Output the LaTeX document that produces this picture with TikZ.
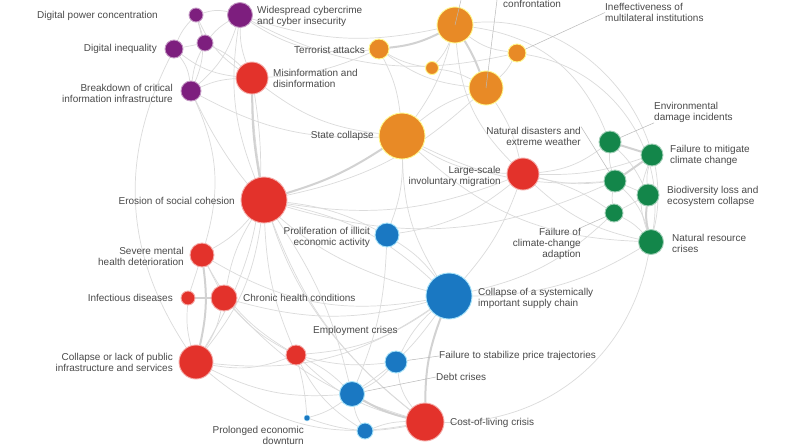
\documentclass[tikz,border=0pt]{standalone}
\usepackage{fontspec}
\setmainfont{Liberation Sans}
\definecolor{techpurple}{HTML}{7D1E7E}
\definecolor{socred}{HTML}{E3322B}
\definecolor{geoorange}{HTML}{E88A26}
\definecolor{envgreen}{HTML}{13864A}
\definecolor{econblue}{HTML}{1A78C2}
\definecolor{labelgray}{HTML}{4A4A4A}
\pgfdeclarelayer{bg}
\pgfsetlayers{bg,main}
\tikzset{
  risk/.style={circle, inner sep=0pt, line width=0.9pt},
  tech/.style={risk, fill=techpurple, draw=techpurple!45!white},
  soc/.style={risk, fill=socred, draw=socred!40!white},
  geo/.style={risk, fill=geoorange, draw=yellow!45!white},
  env/.style={risk, fill=envgreen, draw=envgreen!40!white},
  econ/.style={risk, fill=econblue, draw=cyan!35!white},
  lbl/.style={text=labelgray, font=\fontsize{10}{11}\selectfont, inner sep=0pt},
  lbll/.style={lbl, anchor=east, align=right},
  lblr/.style={lbl, anchor=west, align=left},
  link/.style={draw=gray!28, line width=0.7pt},
  heavylink/.style={draw=gray!35, line width=2pt},
  leader/.style={draw=gray!55, line width=0.5pt}
}
\begin{document}
\begin{tikzpicture}[x=1pt, y=-1pt]
\useasboundingbox (0,0) rectangle (800,445);

\node[tech, minimum size=14] (powerconc) at (196,15) {};
\node[tech, minimum size=25] (cyber) at (240,15) {};
\node[tech, minimum size=16] (digitech) at (205,43) {};
\node[tech, minimum size=18] (diginequal) at (174,49) {};
\node[tech, minimum size=20] (breakdown) at (191,91) {};

\node[soc, minimum size=32] (misinfo) at (252,78) {};
\node[soc, minimum size=46] (cohesion) at (264,200) {};
\node[soc, minimum size=24] (mental) at (202,255) {};
\node[soc, minimum size=14] (infect) at (188,298) {};
\node[soc, minimum size=26] (chronic) at (224,298) {};
\node[soc, minimum size=34] (pubinfra) at (196,362) {};
\node[soc, minimum size=20] (employ) at (296,355) {};
\node[soc, minimum size=32] (migration) at (523,174) {};
\node[soc, minimum size=38] (costliving) at (425,422) {};

\node[geo, minimum size=36] (geotop) at (455,25) {};
\node[geo, minimum size=20] (terror) at (379,49) {};
\node[geo, minimum size=13] (geomid) at (432,68) {};
\node[geo, minimum size=34] (confront) at (486,88) {};
\node[geo, minimum size=18] (multilat) at (517,53) {};
\node[geo, minimum size=46] (statecoll) at (402,136) {};

\node[env, minimum size=22] (envdamage) at (610,142) {};
\node[env, minimum size=22] (mitigate) at (652,155) {};
\node[env, minimum size=22] (natdis) at (615,181) {};
\node[env, minimum size=22] (biodiv) at (648,195) {};
\node[env, minimum size=18] (adaption) at (614,213) {};
\node[env, minimum size=25] (natres) at (651,242) {};

\node[econ, minimum size=24] (illicit) at (387,235) {};
\node[econ, minimum size=46] (supply) at (449,296) {};
\node[econ, minimum size=22] (pricestab) at (396,362) {};
\node[econ, minimum size=25] (debt) at (352,394) {};
\node[econ, minimum size=16] (econlow) at (365,431) {};
\node[econ, minimum size=6, line width=0.4pt] (downturn) at (307,418) {};

\node[lbll] (powerconclbl) at (158,16) {Digital power concentration};
\node[lblr] (cyberlbl) at (257,16.5) {Widespread cybercrime\\and cyber insecurity};
\node[lbll] (diginequallbl) at (157,49) {Digital inequality};
\node[lbll] (breakdownlbl) at (173,93) {Breakdown of critical\\information infrastructure};
\node[lblr] (misinfolbl) at (273,78) {Misinformation and\\disinformation};
\node[lbll] (terrorlbl) at (365,49.5) {Terrorist attacks};
\node[lbll] (statecolllbl) at (374,136) {State collapse};
\node[lbl, anchor=base west] (confrontlbl) at (503,7) {confrontation};
\node[lblr] (multilatlbl) at (605,12.5) {Ineffectiveness of\\multilateral institutions};
\node[lbll] (natdislbl) at (581,136) {Natural disasters and\\extreme weather};
\node[lbll] (migrationlbl) at (501,176) {Large-scale\\involuntary migration};
\node[lblr] (envdamagelbl) at (654,112.5) {Environmental\\damage incidents};
\node[lblr] (mitigatelbl) at (670,155.5) {Failure to mitigate\\climate change};
\node[lblr] (biodivlbl) at (667,196.5) {Biodiversity loss and\\ecosystem collapse};
\node[lbll] (adaptionlbl) at (581,243.5) {Failure of\\climate-change\\adaption};
\node[lblr] (natreslbl) at (672,243) {Natural resource\\crises};
\node[lbll] (cohesionlbl) at (235,201) {Erosion of social cohesion};
\node[lbll] (illicitlbl) at (370,237.5) {Proliferation of illicit\\economic activity};
\node[lbll] (mentallbl) at (184,256) {Severe mental\\health deterioration};
\node[lbll] (infectlbl) at (173,298) {Infectious diseases};
\node[lblr] (chroniclbl) at (243,298) {Chronic health conditions};
\node[lblr] (supplylbl) at (478,298) {Collapse of a systemically\\important supply chain};
\node[lblr] (employlbl) at (313,331) {Employment crises};
\node[lbll] (pubinfralbl) at (173,362.5) {Collapse or lack of public\\infrastructure and services};
\node[lblr] (pricestablbl) at (439,356) {Failure to stabilize price trajectories};
\node[lblr] (debtlbl) at (436,377) {Debt crises};
\node[lblr] (costlivinglbl) at (450,423) {Cost-of-living crisis};
\node[lbll] (downturnlbl) at (304,435) {Prolonged economic\\downturn};

\coordinate (geotopend) at (461,0);
\coordinate (confrontend) at (497,0);

\begin{pgfonlayer}{bg}
\fill[white] (0,0) rectangle (800,445);
\foreach \a/\b/\c in {powerconc/cyber/15, powerconc/diginequal/-10, powerconc/digitech/0,
  powerconc/misinfo/-15, powerconc/breakdown/20, digitech/diginequal/0, digitech/cyber/10,
  digitech/breakdown/-10, digitech/misinfo/10, diginequal/breakdown/15, diginequal/misinfo/-15,
  cyber/breakdown/15, cyber/misinfo/-10, cyber/terror/-20, cyber/geotop/-15, cyber/multilat/-20,
  breakdown/misinfo/10, breakdown/supply/-25, breakdown/statecoll/-15, diginequal/pubinfra/-30,
  breakdown/mental/20, cyber/cohesion/-15, misinfo/terror/-10, misinfo/statecoll/-15,
  misinfo/costliving/-25, misinfo/pubinfra/20,
  cohesion/mental/10, cohesion/pubinfra/15, cohesion/chronic/-10, cohesion/employ/-10,
  cohesion/costliving/-15, cohesion/migration/-15, cohesion/illicit/10, cohesion/confront/-15,
  cohesion/supply/15, cohesion/natdis/-20, cohesion/debt/10,
  mental/chronic/0, mental/infect/0, mental/employ/-15, mental/supply/-20,
  infect/pubinfra/-10, chronic/pubinfra/10, chronic/employ/-10, chronic/costliving/-15,
  chronic/supply/-15, pubinfra/supply/-20,
  pubinfra/employ/-15, pubinfra/costliving/-25, pubinfra/debt/-15, employ/costliving/-15,
  employ/debt/10, employ/pricestab/-10, employ/downturn/5, employ/supply/-15, employ/econlow/-15,
  geotop/geomid/10, geotop/statecoll/10, geotop/multilat/-15, geotop/migration/-20,
  geotop/envdamage/30, terror/geomid/-10, terror/statecoll/10, terror/confront/-15,
  geomid/confront/10, confront/statecoll/-10, confront/multilat/-10, confront/migration/10,
  statecoll/migration/-15, statecoll/illicit/10, statecoll/supply/-15, statecoll/natres/-20,
  statecoll/natdis/-15, illicit/migration/-15,
  migration/envdamage/-15, migration/natdis/-10, migration/adaption/10, migration/supply/10,
  migration/natres/-15, migration/mitigate/-10, envdamage/natdis/-10, envdamage/biodiv/10,
  mitigate/biodiv/-10, mitigate/natres/-20, natdis/biodiv/0, natdis/adaption/-10,
  biodiv/adaption/0, adaption/natres/10, natdis/natres/15, supply/natres/-15,
  costliving/natres/-40, geotop/natres/55, multilat/natres/45, illicit/supply/10,
  illicit/debt/10, supply/pricestab/-10, supply/debt/10, supply/adaption/-15,
  pricestab/debt/10, pricestab/costliving/-15, debt/econlow/-10, econlow/costliving/10,
  downturn/debt/-10, downturn/costliving/-15}
  \draw[link] (\a) to[bend left=\c] (\b);
\foreach \a/\b/\c in {misinfo/cohesion/-5, cohesion/statecoll/-8, infect/chronic/0,
  envdamage/mitigate/0, natdis/mitigate/0, biodiv/natres/-10, debt/costliving/-8,
  supply/costliving/-10, geotop/confront/5, terror/geotop/-10, mental/pubinfra/10}
  \draw[heavylink] (\a) to[bend left=\c] (\b);
\end{pgfonlayer}

\draw[leader] (geotop.center) -- (geotopend);
\draw[leader] (confront.center) -- (confrontend);
\draw[leader] (multilat) -- (multilatlbl.west);
\draw[leader] (envdamage) -- (envdamagelbl.south west);
\draw[leader] (natdislbl.north east) -- (natdis);
\draw[leader] (adaptionlbl.north east) -- (adaption);
\draw[leader] (pricestab) -- (pricestablbl.west);
\draw[leader] (debt) -- (debtlbl.west);
\end{tikzpicture}
\end{document}
